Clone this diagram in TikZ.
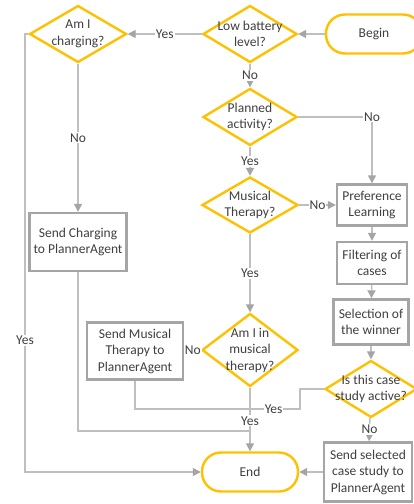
\documentclass[tikz,border=0pt]{standalone}
\usepackage{fontspec}
\setmainfont{Carlito}
\usetikzlibrary{shapes.geometric,arrows.meta}
\definecolor{gold}{HTML}{FFC000}
\definecolor{boxgray}{HTML}{A5A5A5}
\definecolor{linegray}{HTML}{BFBFBF}
\definecolor{txtgray}{HTML}{3F3F3F}
\tikzset{
    decision/.style={diamond, draw=gold, line width=2.4pt, inner sep=-14pt, align=center, text=txtgray, font=\fontsize{13.5}{16.5}\selectfont},
    terminal/.style={rectangle, rounded corners=19pt, draw=gold, line width=2.4pt, minimum width=96pt, minimum height=39pt, text=txtgray, font=\fontsize{13.5}{16.5}\selectfont},
    process/.style={rectangle, draw=boxgray, line width=2.4pt, inner sep=1pt, align=center, text=txtgray, font=\fontsize{13.5}{16.5}\selectfont},
    flow/.style={draw=linegray, line width=1.4pt},
    arr/.style={flow, -{Triangle[length=8pt, width=8pt, color=boxgray, fill=boxgray]}},
    lbl/.style={fill=white, inner sep=1pt, text=txtgray, font=\fontsize{13.5}{16.5}\selectfont},
}
\begin{document}
\begin{tikzpicture}[x=1pt, y=-1pt]
        \useasboundingbox (0,0) rectangle (414,504);
        
        \node[terminal] (begin) at (374,34) {Begin};
        \node[decision, minimum width=94pt, minimum height=57pt] (lowbat) at (250,34) {Low battery\\level?};
        \node[decision, minimum width=97pt, minimum height=57pt] (charging) at (78,34) {Am I\\charging?};
        \node[decision, minimum width=94pt, minimum height=57pt] (planned) at (250,117) {Planned\\activity?};
        \node[decision, minimum width=96pt, minimum height=56pt] (musical) at (250,205) {Musical\\Therapy?};
        \node[decision, minimum width=96pt, minimum height=73pt] (inmusic) at (250,350) {Am I in\\musical\\therapy?};
        \node[decision, minimum width=92pt, minimum height=57pt] (active) at (371,389) {Is this case\\study active?};
        \node[terminal] (end) at (250,472) {End};
        
        \node[process, minimum width=70pt, minimum height=41pt] (pref) at (372,205) {Preference\\Learning};
        \node[process, minimum width=70pt, minimum height=42pt] (filter) at (372,263) {Filtering of\\cases};
        \node[process, minimum width=75pt, minimum height=45pt] (select) at (371,322) {Selection of\\the winner};
        \node[process, minimum width=88pt, minimum height=59pt] (sendcase) at (368,472) {Send selected\\case study to\\PlannerAgent};
        \node[process, minimum width=96pt, minimum height=57pt] (sendmus) at (135,351) {Send Musical\\Therapy to\\PlannerAgent};
        \node[process, minimum width=97pt, minimum height=58pt] (sendchg) at (78,242) {Send Charging\\to PlannerAgent};
        
        \coordinate (chgleft) at (25,34);
        \coordinate (joinchg) at (250,431);
        \coordinate (bendA) at (300,389);
        \coordinate (bendB) at (300,409);
        
        \draw[arr] (begin) -- (lowbat);
        \draw[arr] (lowbat) -- node[lbl] {Yes} (charging);
        \draw[arr] (lowbat) -- node[lbl] {No} (planned);
        \draw[arr] (planned.east) -| node[lbl, pos=0.5] {No} (pref.north);
        \draw[arr] (planned) -- node[lbl] {Yes} (musical);
        \draw[arr] (musical) -- node[lbl] {No} (pref);
        \draw[arr] (pref) -- (filter);
        \draw[arr] (filter) -- (select);
        \draw[arr] (select) -- (active);
        \draw[arr] (active) -- node[lbl] {No} (sendcase);
        \draw[arr] (sendcase) -- (end);
        \draw[arr] (musical) -- node[lbl] {Yes} (inmusic);
        \draw[arr] (inmusic) -- node[lbl] {No} (sendmus);
        \draw[arr] (charging) -- node[lbl] {No} (sendchg);
        
        \draw[flow] (sendchg.south) |- (joinchg);
        \draw[flow] (active.west) -- (bendA) -- (bendB) -| node[lbl, pos=0.08] {Yes} (sendmus.south);
        \draw[arr] (inmusic) -- node[lbl, pos=0.52] {Yes} (end);
        \draw[arr] (charging.west) -- (chgleft) |- node[lbl, pos=0.35] {Yes} (end.west);
        
\end{tikzpicture}
\end{document}
